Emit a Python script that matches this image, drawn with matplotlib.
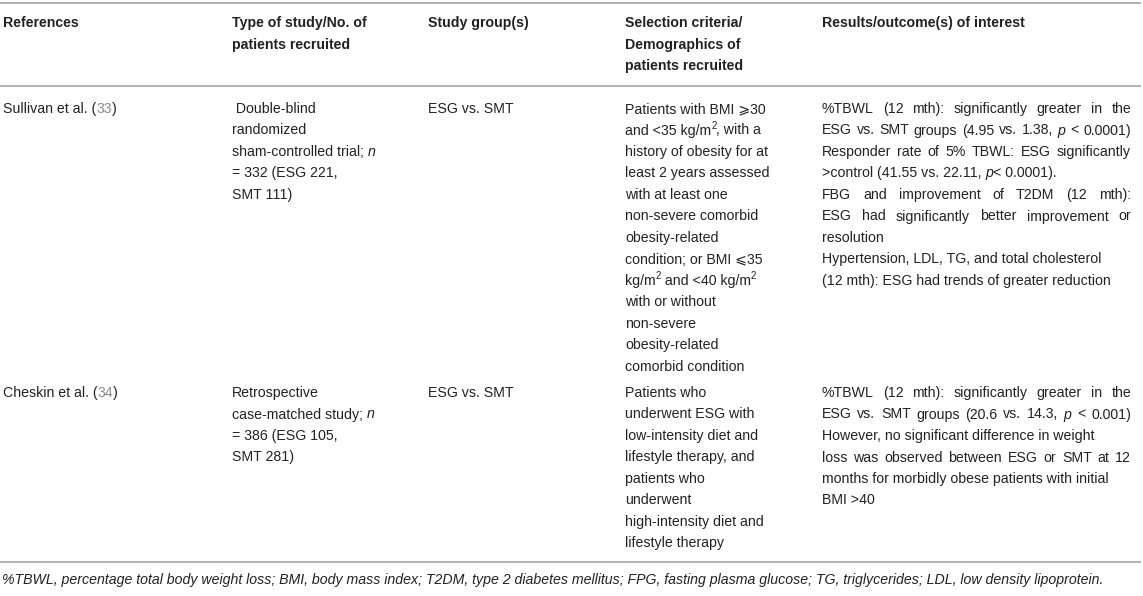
import re
import matplotlib
matplotlib.use('Agg')
import matplotlib.pyplot as plt

# Table content (markup: <i>..</i> italic, <sup>..</sup> superscript, <g>..</g> grey citation)
headers = [
    ['References'],
    ['Type of study/No. of', 'patients recruited'],
    ['Study group(s)'],
    ['Selection criteria/', 'Demographics of', 'patients recruited'],
    ['Results/outcome(s) of interest'],
]

references = ['Sullivan et al. (<g>33</g>)', 'Cheskin et al. (<g>34</g>)']

study_types = [
    [' Double-blind', 'randomized', 'sham-controlled trial; <i>n</i>',
     '= 332 (ESG 221,', 'SMT 111)'],
    ['Retrospective', 'case-matched study; <i>n</i>', '= 386 (ESG 105,', 'SMT 281)'],
]

study_groups = ['ESG vs. SMT', 'ESG vs. SMT']

selection = [
    ['Patients with BMI \u2a7e30', 'and <35 kg/m<sup>2</sup>, with a',
     'history of obesity for at', 'least 2 years assessed', 'with at least one',
     'non-severe comorbid', 'obesity-related', 'condition; or BMI \u2a7d35',
     'kg/m<sup>2</sup> and <40 kg/m<sup>2</sup>', 'with or without', 'non-severe',
     'obesity-related', 'comorbid condition'],
    ['Patients who', 'underwent ESG with', 'low-intensity diet and',
     'lifestyle therapy, and', 'patients who', 'underwent',
     'high-intensity diet and', 'lifestyle therapy'],
]

# (line, justified?)
results = [
    [('%TBWL (12 mth): significantly greater in the', True),
     ('ESG vs. SMT groups (4.95 vs. 1.38, <i>p</i> < 0.0001)', True),
     ('Responder rate of 5% TBWL: ESG significantly', True),
     ('>control (41.55 vs. 22.11, <i>p</i>< 0.0001).', False),
     ('FBG and improvement of T2DM (12 mth):', True),
     ('ESG had significantly better improvement or', True),
     ('resolution', False),
     ('Hypertension, LDL, TG, and total cholesterol', False),
     ('(12 mth): ESG had trends of greater reduction', False)],
    [('%TBWL (12 mth): significantly greater in the', True),
     ('ESG vs. SMT groups (20.6 vs. 14.3, <i>p</i> < 0.001)', True),
     ('However, no significant difference in weight', False),
     ('loss was observed between ESG or SMT at 12', True),
     ('months for morbidly obese patients with initial', False),
     ('BMI >40', False)],
]

footnote = ('%TBWL, percentage total body weight loss; BMI, body mass index; '
            'T2DM, type 2 diabetes mellitus; FPG, fasting plasma glucose; '
            'TG, triglycerides; LDL, low density lipoprotein.')

W, H = 1143, 596
FAMILY = ['Liberation Sans', 'DejaVu Sans']
FS = 10.2          # points, ~14 px at dpi 100
FS_PX = FS / 72 * 100
TEXT = '#222222'
GREY = '#8a8a8a'
RULE = '#b0b0b0'
STEP = 21.5

col_x = [3, 232, 428, 625, 822]
right_edge = 1131

fig = plt.figure(figsize=(W / 100, H / 100), dpi=100)
ax = fig.add_axes([0, 0, 1, 1])
ax.set_xlim(0, W)
ax.set_ylim(H, 0)
ax.axis('off')
renderer = fig.canvas.get_renderer()


def parse(line):
    segs = []
    for p in re.split(r'(<i>.*?</i>|<sup>.*?</sup>|<g>.*?</g>)', line):
        if not p:
            continue
        m = re.match(r'<(i|sup|g)>(.*?)</\1>', p)
        segs.append((m.group(2), m.group(1)) if m else (p, 'n'))
    return segs


def style_kw(style, bold):
    kw = dict(fontsize=FS, color=TEXT, family=FAMILY, va='baseline', ha='left',
              fontweight='bold' if bold else 'normal')
    if style == 'i':
        kw['fontstyle'] = 'italic'
    elif style == 'g':
        kw['color'] = GREY
    elif style == 'sup':
        kw['fontsize'] = FS * 0.68
    return kw


_cache = {}


def ink(s, style, bold):
    key = (s, style, bold)
    if key not in _cache:
        t = ax.text(0, 0, s, **style_kw(style, bold))
        _cache[key] = t.get_window_extent(renderer).width
        t.remove()
    return _cache[key]


def adv(s, style, bold):
    # advance width of s, spaces included
    return ink('x' + s + 'x', style, bold) - ink('xx', style, bold)


def put(x, y, s, style, bold):
    if style == 'sup':
        y = y - FS_PX * 0.42
    ax.text(x, y, s, **style_kw(style, bold))
    return adv(s, style, bold)


def words_of(line):
    words = [[]]
    for text, style in parse(line):
        for k, c in enumerate(text.split(' ')):
            if k > 0:
                words.append([])
            if c:
                words[-1].append((c, style))
    return words


def draw_line(x, y, line, bold=False, justify_to=None):
    if justify_to is None:
        for text, style in parse(line):
            x += put(x, y, text, style, bold)
        return
    words = words_of(line)
    widths = [sum(adv(c, st, bold) for c, st in wd) for wd in words]
    gap = (justify_to - x - sum(widths)) / max(len(words) - 1, 1)
    for wd, ww in zip(words, widths):
        cx = x
        for c, st in wd:
            cx += put(cx, y, c, st, bold)
        x += ww + gap


# rules
for yy in (3, 86, 562):
    ax.plot([0, 1141], [yy, yy], color=RULE, lw=1.4, solid_capstyle='butt')

# header
hdr_base = 27
for cx, lines in zip(col_x, headers):
    for k, ln in enumerate(lines):
        draw_line(cx, hdr_base + k * STEP, ln, bold=True)

# body rows
row_base = [113, 397]
for r in range(2):
    y0 = row_base[r]
    draw_line(col_x[0], y0, references[r])
    for k, ln in enumerate(study_types[r]):
        draw_line(col_x[1], y0 + k * STEP, ln)
    draw_line(col_x[2], y0, study_groups[r])
    for k, ln in enumerate(selection[r]):
        draw_line(col_x[3], y0 + k * STEP, ln)
    for k, (ln, just) in enumerate(results[r]):
        draw_line(col_x[4], y0 + k * STEP, ln, justify_to=right_edge if just else None)

# footnote
ax.text(2, 584, footnote, fontsize=FS, fontstyle='italic', color=TEXT,
        family=FAMILY, va='baseline', ha='left')

fig.savefig('out.png', dpi=100)
